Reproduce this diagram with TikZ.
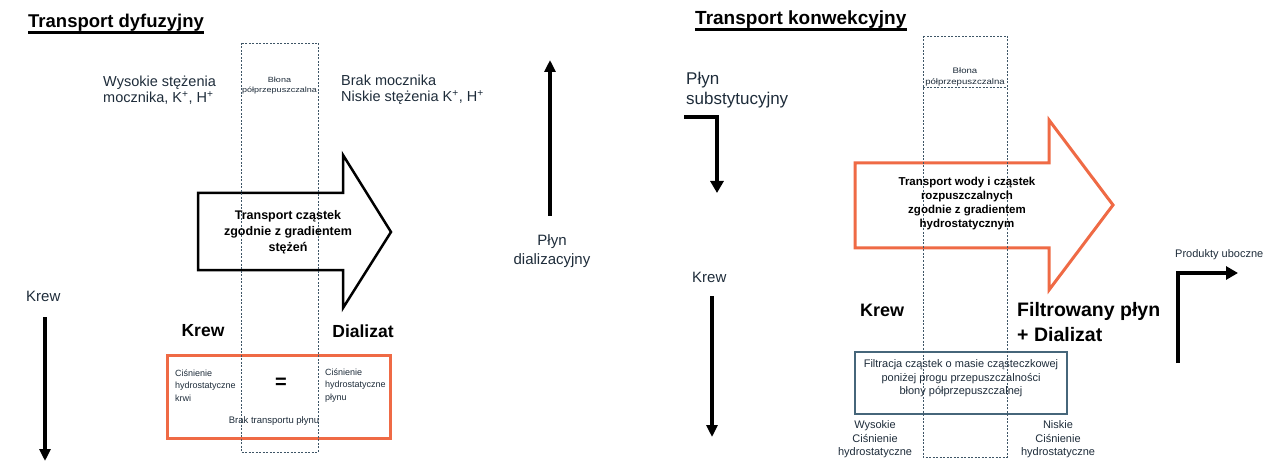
\documentclass[tikz,border=0pt]{standalone}
\usepackage{fontspec}
\setmainfont{Liberation Sans}
\usetikzlibrary{arrows.meta}
\definecolor{orng}{HTML}{EF6A45}
\definecolor{memb}{HTML}{3E5566}
\definecolor{txt}{HTML}{1E2C3A}
\definecolor{boxc}{HTML}{46667A}
\newcommand{\fsz}[2]{\fontsize{#1}{#2}\selectfont}
\newcommand{\wide}[1]{\scalebox{1.2}[1]{#1}}
\begin{document}
\begin{tikzpicture}[x=1pt,y=-1pt,
  lbl/.style={text=txt, inner sep=0pt, align=left},
  clbl/.style={text=txt, inner sep=0pt, align=center},
  blbl/.style={text=black, inner sep=0pt, align=left, font=\bfseries\fsz{18}{25}},
  title/.style={text=black, inner sep=0pt, font=\bfseries\fsz{18.5}{20}},
  membrane/.style={draw=memb, dash pattern=on 2pt off 1.5pt, line width=0.8pt},
  flow/.style={line width=3.2pt, -{Triangle[width=11pt,length=12pt]}},
  thickflow/.style={line width=4.5pt, miter limit=4, -{Triangle[width=13pt,length=12pt]}},
  bigarrow/.style={line width=2.5pt, fill=white, line join=miter}
]
\useasboundingbox (0,0) rectangle (1268,462);

% ================= LEFT PANEL =================
\node[title, anchor=base west] (t1) at (28,28) {Transport dyfuzyjny};
\draw[line width=2.3pt] ([yshift=-4.5pt]t1.base west) -- ([yshift=-4.5pt]t1.base east);

% big black arrow
\draw[bigarrow, draw=black] (198,193) -- (343,193) -- (343,155) -- (391,232) -- (343,308) -- (343,270) -- (198,270) -- cycle;

% orange box
\draw[draw=orng, line width=3pt] (167,355) rectangle (390,438);

% membrane
\draw[membrane] (241,43) rectangle (318,452);
\node[clbl, font=\fsz{7.5}{10}] (m1) at (279.5,86) {\wide{Błona}\\\wide{półprzepuszczalna}};

\node[lbl, anchor=west, font=\fsz{14.5}{16}] (hi) at (103,90) {Wysokie stężenia\\mocznika, K\textsuperscript{+}, H\textsuperscript{+}};
\node[lbl, anchor=west, font=\fsz{14.5}{16}] (lo) at (341,90) {Brak mocznika\\Niskie stężenia K\textsuperscript{+}, H\textsuperscript{+}};

\node[clbl, text=black, font=\bfseries\fsz{12.5}{16}] (tr1) at (288,232) {Transport cząstek\\zgodnie z gradientem\\stężeń};

\node[blbl, font=\bfseries\fsz{17.5}{20}] (krew1) at (203,331) {Krew};
\node[blbl, font=\bfseries\fsz{17.5}{20}] (dial) at (363,331) {Dializat};

\node[lbl, anchor=west, font=\fsz{9}{12.5}] (cb) at (175,385.5) {Ciśnienie\\hydrostatyczne\\krwi};
\node[lbl, anchor=west, font=\fsz{9}{12.5}] (cp) at (325,385.5) {Ciśnienie\\hydrostatyczne\\płynu};
\node[inner sep=0pt, font=\bfseries\fsz{20}{20}] (eq) at (281,383) {=};
\node[clbl, font=\fsz{9.5}{12}] (brak) at (274,421) {Brak transportu płynu};

% left Krew flow
\node[lbl, anchor=west, font=\fsz{15}{18}] (krewL) at (26,296) {Krew};
\coordinate (kL1) at (45,317);
\coordinate (kL2) at (45,461);
\draw[flow] (kL1) -- (kL2);

% dialysate flow
\node[clbl, font=\fsz{15}{19}] (pd) at (552,251) {Płyn\\dializacyjny};
\coordinate (pd1) at (550,216);
\coordinate (pd2) at (550,60);
\draw[flow, line width=3.5pt] (pd1) -- (pd2);

% ================= RIGHT PANEL =================
\node[title, anchor=base west, font=\bfseries\fsz{19}{20}] (t2) at (695,25) {Transport konwekcyjny};
\draw[line width=2.3pt] ([yshift=-4.5pt]t2.base west) -- ([yshift=-4.5pt]t2.base east);

% orange big arrow
\draw[bigarrow, draw=orng, line width=3pt] (855,163) -- (1049,163) -- (1049,120) -- (1113,205) -- (1049,290) -- (1049,248) -- (855,248) -- cycle;

% filtration box
\draw[draw=boxc, line width=1.3pt] (855,352) rectangle (1067,414);

% membrane
\draw[membrane] (923,36) rectangle (1007,457);
\draw[membrane] (923,87) -- (1007,87);
\node[clbl, font=\fsz{8}{11}] (m2) at (965,76.5) {\wide{Błona}\\\wide{półprzepuszczalna}};

\node[clbl, text=black, font=\bfseries\fsz{11.5}{14}] (tr2) at (967,204) {Transport wody i cząstek\\rozpuszczalnych\\zgodnie z gradientem\\hydrostatycznym};

\node[lbl, anchor=west, font=\fsz{17}{20}] (ps) at (686,90) {Płyn\\substytucyjny};
\coordinate (ps1) at (684,117);
\coordinate (ps2) at (717,117);
\coordinate (ps3) at (717,193);
\draw[thickflow] (ps1) -- (ps2) -- (ps3);

\node[lbl, anchor=west, font=\fsz{15}{18}] (krewR) at (692,277) {Krew};
\coordinate (kR1) at (712,296);
\coordinate (kR2) at (712,437);
\draw[flow, line width=3.5pt] (kR1) -- (kR2);

\node[blbl, font=\bfseries\fsz{18}{20}] (krew2) at (882,310) {Krew};
\node[blbl, anchor=west, font=\bfseries\fsz{19.5}{25}] (fp) at (1017,322.5) {Filtrowany płyn\\+ Dializat};

\node[clbl, font=\fsz{11}{13.5}] (filt) at (961,378.5) {Filtracja cząstek o masie cząsteczkowej\\poniżej progu przepuszczalności\\błony półprzepuszczalnej};

\node[clbl, font=\fsz{11}{13.5}] (wys) at (875,439.5) {Wysokie\\Ciśnienie\\hydrostatyczne};
\node[clbl, font=\fsz{11}{13.5}] (nis) at (1058,439.5) {Niskie\\Ciśnienie\\hydrostatyczne};

\node[lbl, anchor=west, font=\fsz{11}{12}] (prod) at (1175,255) {Produkty uboczne};
\coordinate (pr1) at (1178,363);
\coordinate (pr2) at (1178,273);
\coordinate (pr3) at (1238,273);
\draw[thickflow] (pr1) -- (pr2) -- (pr3);
\end{tikzpicture}
\end{document}
